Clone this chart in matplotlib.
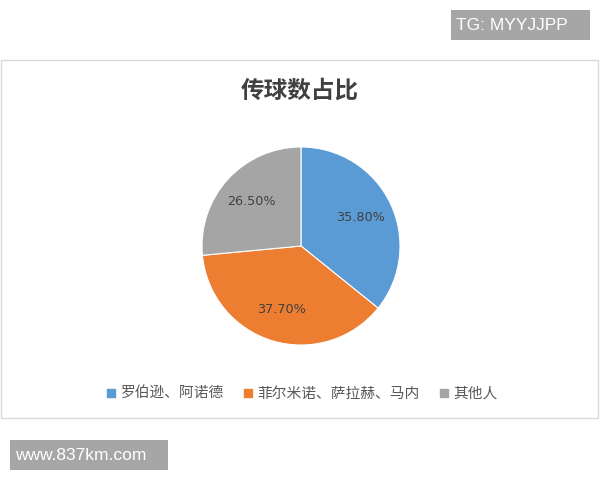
import matplotlib
matplotlib.use('Agg')
import matplotlib.pyplot as plt
from matplotlib.patches import Rectangle
from matplotlib.lines import Line2D

# data
labels = ['罗伯逊、阿诺德', '菲尔米诺、萨拉赫、马内', '其他人']
shares = [35.8, 37.7, 26.5]
colors = ['#5B9BD5', '#ED7D31', '#A5A5A5']
title = '传球数占比'

plt.rcParams['font.family'] = ['Noto Sans CJK SC', 'DejaVu Sans']

fig = plt.figure(figsize=(6, 4.8), dpi=100)

# chart frame (behind the pie axes)
fig.patches.append(Rectangle((0.002, 1 - 418 / 480), 0.994, (418 - 60) / 480,
                             transform=fig.transFigure, facecolor='white',
                             edgecolor='#D9D9D9', linewidth=1, zorder=-5))

# pie
ax = fig.add_axes([201 / 600, 1 - 346 / 480, 200 / 600, 200 / 480])
wedges, texts, autotexts = ax.pie(
    shares, colors=colors, startangle=90, counterclock=False,
    autopct='%.2f%%', pctdistance=0.67,
    wedgeprops=dict(edgecolor='white', linewidth=0.8),
    textprops=dict(color='#404040', fontsize=9.2, family=['DejaVu Sans']))
ax.set_xlim(-1.01, 1.01)
ax.set_ylim(-1.01, 1.01)

fig.text(0.5, 1 - 91 / 480, title, ha='center', va='center',
         fontsize=17, color='#404040', fontweight='bold')

# legend
handles = [Line2D([], [], marker='s', linestyle='none', markersize=6,
                  markerfacecolor=c, markeredgecolor=c) for c in colors]
fig.legend(handles, labels, loc='center', ncol=3,
           bbox_to_anchor=(0.503, 1 - 394 / 480), frameon=False,
           fontsize=10.6, labelcolor='#595959', handlelength=0.7,
           handletextpad=0.3, columnspacing=1.3)

# watermarks
fig.patches.append(Rectangle((451 / 600, 1 - 40 / 480), 139 / 600, 30 / 480,
                             transform=fig.transFigure, facecolor='#A6A6A6',
                             edgecolor='none'))
fig.text(456 / 600, 1 - 25 / 480, 'TG: MYYJJPP', ha='left', va='center',
         color='white', fontsize=12.5, family=['Liberation Sans'])
fig.patches.append(Rectangle((10 / 600, 1 - 470 / 480), 158 / 600, 30 / 480,
                             transform=fig.transFigure, facecolor='#A6A6A6',
                             edgecolor='none'))
fig.text(15 / 600, 1 - 455 / 480, 'www.837km.com', ha='left', va='center',
         color='white', fontsize=12.5, family=['Liberation Sans'])

plt.savefig('out.png', dpi=100)
